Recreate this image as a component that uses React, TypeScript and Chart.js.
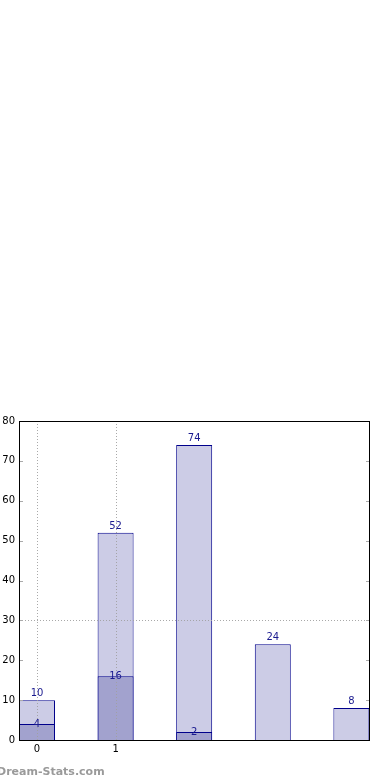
import React, { useEffect, useRef } from "react";
import { Chart, registerables } from "chart.js";

Chart.register(...registerables);

const categories = [0, 1, 2, 3, 4];
const totalValues = [10, 52, 74, 24, 8];
const partValues = [4, 16, 2, null, null];
const yTicks = [0, 10, 20, 30, 40, 50, 60, 70, 80];
const xTickLabels = ["0", "1"];
const watermark = "Dream-Stats.com";

const NAVY = "#1a1a8f";
const BORDER = "#00008b";

const overlayPlugin = {
  id: "overlay",
  afterDatasetsDraw(chart: any) {
    const { ctx, chartArea: a, scales } = chart;
    const x = scales.x;
    const y = scales.y;
    ctx.save();
    // dotted grid
    ctx.strokeStyle = "rgba(160,160,160,0.9)";
    ctx.lineWidth = 1;
    ctx.setLineDash([1, 2]);
    for (let i = 0; i < xTickLabels.length; i++) {
      const px = Math.round(x.getPixelForValue(i)) + 0.5;
      ctx.beginPath();
      ctx.moveTo(px, a.top);
      ctx.lineTo(px, a.bottom);
      ctx.stroke();
    }
    const py = Math.round(y.getPixelForValue(30)) + 0.5;
    ctx.beginPath();
    ctx.moveTo(a.left, py);
    ctx.lineTo(a.right, py);
    ctx.stroke();
    ctx.setLineDash([]);
    // inward tick marks
    ctx.strokeStyle = "#aaaaaa";
    for (const t of yTicks) {
      const ty = Math.round(y.getPixelForValue(t)) + 0.5;
      ctx.beginPath();
      ctx.moveTo(a.left, ty);
      ctx.lineTo(a.left + 4, ty);
      ctx.moveTo(a.right - 4, ty);
      ctx.lineTo(a.right, ty);
      ctx.stroke();
    }
    // value labels
    ctx.fillStyle = NAVY;
    ctx.font = "10px 'DejaVu Sans'";
    ctx.textAlign = "center";
    ctx.textBaseline = "alphabetic";
    categories.forEach((c, i) => {
      const cx = x.getPixelForValue(c);
      const tv = totalValues[i];
      if (tv != null) ctx.fillText(String(tv), cx, y.getPixelForValue(tv) - 4);
      const pv = partValues[i];
      if (pv != null) ctx.fillText(String(pv), cx, y.getPixelForValue(pv) + 3);
    });
    // axes box
    ctx.strokeStyle = "#000000";
    ctx.lineWidth = 1;
    ctx.strokeRect(a.left + 0.5, a.top + 0.5, a.right - a.left - 1, a.bottom - a.top);
    // watermark
    ctx.fillStyle = "#9a9a9a";
    ctx.font = "bold 11px 'DejaVu Sans'";
    ctx.textAlign = "left";
    ctx.fillText(watermark, -3, 775);
    ctx.restore();
  },
};

export default function App() {
  const ref = useRef<HTMLCanvasElement>(null);
  useEffect(() => {
    if (!ref.current) return;
    const chart = new Chart(ref.current, {
      type: "bar",
      data: {
        datasets: [
          {
            label: "part",
            data: categories.map((c, i) => ({ x: c, y: partValues[i] })) as any,
            backgroundColor: "rgb(162,162,206)",
            borderColor: BORDER,
            borderWidth: 1,
            borderSkipped: "bottom",
            grouped: false,
            categoryPercentage: 1,
            barPercentage: 0.458,
            order: 0,
          },
          {
            label: "total",
            data: categories.map((c, i) => ({ x: c, y: totalValues[i] })) as any,
            backgroundColor: "rgb(204,204,230)",
            borderColor: BORDER,
            borderWidth: 1,
            borderSkipped: "bottom",
            grouped: false,
            categoryPercentage: 1,
            barPercentage: 0.458,
            order: 1,
          },
        ],
      },
      options: {
        animation: false,
        responsive: false,
        layout: { padding: { top: 421, right: 20, left: 0, bottom: 0 } },
        plugins: { legend: { display: false }, tooltip: { enabled: false } },
        scales: {
          x: {
            type: "linear",
            offset: false,
            bounds: "data",
            min: -0.229,
            max: 4.237,
            grid: { display: false, drawTicks: false, offset: false },
            border: { display: false },
            afterBuildTicks: (s: any) => {
              s.ticks = xTickLabels.map((_, i) => ({ value: i }));
            },
            afterFit: (s: any) => {
              s.height = 40;
            },
            ticks: {
              color: "#000",
              font: { family: "'DejaVu Sans'", size: 10 },
              padding: 3,
              maxRotation: 0,
              callback: (v: any) => xTickLabels[v] ?? "",
            },
          },
          y: {
            min: 0,
            max: 80,
            grid: { display: false, drawTicks: false },
            border: { display: false },
            afterBuildTicks: (s: any) => {
              s.ticks = yTicks.map((v) => ({ value: v }));
            },
            afterFit: (s: any) => {
              s.width = 19;
            },
            ticks: {
              color: "#000",
              font: { family: "'DejaVu Sans'", size: 10 },
              padding: 4,
            },
          },
        },
      },
      plugins: [overlayPlugin],
    });
    return () => chart.destroy();
  }, []);
  return (
    <div style={{ position: "absolute", left: 0, top: 0, width: 390, height: 780, background: "#fff" }}>
      <canvas ref={ref} width={390} height={780} style={{ display: "block" }} />
    </div>
  );
}
